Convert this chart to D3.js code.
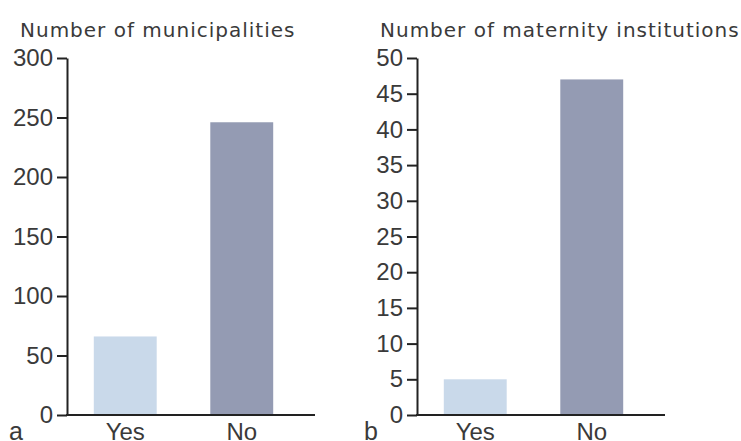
<!DOCTYPE html>
<html>
<head>
<meta charset="utf-8">
<script src="https://cdn.jsdelivr.net/npm/d3@7"></script>
<style>
  html, body { margin: 0; padding: 0; background: #fff; }
  svg { display: block; }
  text { font-family: "Liberation Sans", Arial, sans-serif; fill: #3a3a3a; }
</style>
</head>
<body>
<svg id="chart" width="741" height="441"></svg>
<script>
// ---- data ----
const categories = ["Yes", "No"];
const municipalities = [66, 246];
const maternity = [5, 47];
const ticksA = [0, 50, 100, 150, 200, 250, 300];
const ticksB = [0, 5, 10, 15, 20, 25, 30, 35, 40, 45, 50];
const titles = ["Number of municipalities", "Number of maternity institutions"];
const panelLetters = ["a", "b"];
const barColors = ["#c9d9ea", "#949bb3"];

// ---- layout ----
const svg = d3.select("#chart");
svg.append("rect").attr("width", 741).attr("height", 441).attr("fill", "#fff");

const plotTop = 58, plotBottom = 415;
const panels = [
  { axisX: 67, titleX: 20, letterX: 9, values: municipalities, ticks: ticksA, max: 300, title: titles[0], letter: panelLetters[0] },
  { axisX: 417, titleX: 380, letterX: 364, values: maternity, ticks: ticksB, max: 50, title: titles[1], letter: panelLetters[1] }
];

panels.forEach(p => {
  const g = svg.append("g");
  const y = d3.scaleLinear().domain([0, p.max]).range([plotBottom, plotTop]);
  const x = d3.scaleBand().domain(categories)
    .range([p.axisX, p.axisX + 233]).paddingInner(0.46).paddingOuter(0.23);

  // bars
  g.selectAll("rect.bar").data(categories).enter().append("rect")
    .attr("class", "bar")
    .attr("x", d => x(d))
    .attr("width", x.bandwidth())
    .attr("y", (d, i) => y(p.values[i]))
    .attr("height", (d, i) => y(0) - y(p.values[i]))
    .attr("fill", (d, i) => barColors[i]);

  // y axis
  const ya = g.append("g").attr("transform", `translate(${p.axisX},0)`)
    .call(d3.axisLeft(y).tickValues(p.ticks).tickSize(10).tickSizeOuter(0).tickPadding(4));
  ya.select(".domain").attr("stroke", "#222").attr("stroke-width", 2);
  ya.selectAll(".tick line").attr("stroke", "#222").attr("stroke-width", 2);
  ya.selectAll(".tick text").style("font-size", "24px").style("font-family", "Liberation Sans, Arial, sans-serif").attr("fill", "#444");

  // x axis line
  g.append("line")
    .attr("x1", p.axisX - 1).attr("x2", p.axisX + 248)
    .attr("y1", y(0)).attr("y2", y(0))
    .attr("stroke", "#222").attr("stroke-width", 2);

  // x labels
  g.selectAll("text.xl").data(categories).enter().append("text")
    .attr("class", "xl")
    .attr("x", d => x(d) + x.bandwidth() / 2)
    .attr("y", 440)
    .attr("text-anchor", "middle")
    .style("font-size", "24px")
    .text(d => d);

  // title
  g.append("text")
    .attr("x", p.titleX).attr("y", 37)
    .style("font-family", "DejaVu Sans, sans-serif")
    .style("font-size", "20px")
    .style("letter-spacing", "1px")
    .attr("fill", "#222")
    .text(p.title);

  // panel letter
  g.append("text")
    .attr("x", p.letterX).attr("y", 440)
    .style("font-size", "25px")
    .text(p.letter);
});
</script>
</body>
</html>
